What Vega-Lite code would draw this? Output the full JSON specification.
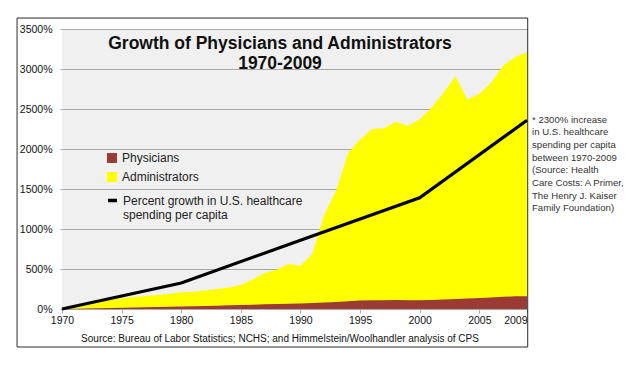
{
  "$schema": "https://vega.github.io/schema/vega-lite/v6.json",
  "width": 465,
  "height": 280,
  "autosize": {"type": "none"},
  "padding": {"left": 62, "top": 29, "right": 104, "bottom": 58},
  "background": "white",
  "config": {"view": {"fill": "#f0f0f0", "stroke": null}, "font": "Liberation Sans"},
  "title": {
    "text": ["Growth of Physicians and Administrators", "1970-2009"],
    "anchor": "middle",
    "frame": "group",
    "font": "Liberation Sans",
    "fontSize": 17.5,
    "fontWeight": "bold",
    "color": "#111111",
    "lineHeight": 20,
    "offset": 0,
    "dx": -14.5,
    "dy": 55
  },
  "datasets": {
    "growth": [
      {"year": 1970, "series": "Administrators", "value": 0},
      {"year": 1971, "series": "Administrators", "value": 30},
      {"year": 1972, "series": "Administrators", "value": 60},
      {"year": 1973, "series": "Administrators", "value": 90},
      {"year": 1974, "series": "Administrators", "value": 115},
      {"year": 1975, "series": "Administrators", "value": 135},
      {"year": 1976, "series": "Administrators", "value": 150},
      {"year": 1977, "series": "Administrators", "value": 162},
      {"year": 1978, "series": "Administrators", "value": 175},
      {"year": 1979, "series": "Administrators", "value": 188},
      {"year": 1980, "series": "Administrators", "value": 210},
      {"year": 1981, "series": "Administrators", "value": 215},
      {"year": 1982, "series": "Administrators", "value": 232},
      {"year": 1983, "series": "Administrators", "value": 250},
      {"year": 1984, "series": "Administrators", "value": 270},
      {"year": 1985, "series": "Administrators", "value": 300},
      {"year": 1986, "series": "Administrators", "value": 370},
      {"year": 1987, "series": "Administrators", "value": 450},
      {"year": 1988, "series": "Administrators", "value": 490},
      {"year": 1989, "series": "Administrators", "value": 562},
      {"year": 1990, "series": "Administrators", "value": 540},
      {"year": 1991, "series": "Administrators", "value": 690},
      {"year": 1992, "series": "Administrators", "value": 1180},
      {"year": 1993, "series": "Administrators", "value": 1480},
      {"year": 1994, "series": "Administrators", "value": 1950},
      {"year": 1995, "series": "Administrators", "value": 2120},
      {"year": 1996, "series": "Administrators", "value": 2250},
      {"year": 1997, "series": "Administrators", "value": 2260},
      {"year": 1998, "series": "Administrators", "value": 2340},
      {"year": 1999, "series": "Administrators", "value": 2290},
      {"year": 2000, "series": "Administrators", "value": 2370},
      {"year": 2001, "series": "Administrators", "value": 2520},
      {"year": 2002, "series": "Administrators", "value": 2700},
      {"year": 2003, "series": "Administrators", "value": 2910},
      {"year": 2004, "series": "Administrators", "value": 2620},
      {"year": 2005, "series": "Administrators", "value": 2690},
      {"year": 2006, "series": "Administrators", "value": 2830},
      {"year": 2007, "series": "Administrators", "value": 3040},
      {"year": 2008, "series": "Administrators", "value": 3150},
      {"year": 2009, "series": "Administrators", "value": 3210},
      {"year": 1970, "series": "Physicians", "value": 0},
      {"year": 1971, "series": "Physicians", "value": 3},
      {"year": 1972, "series": "Physicians", "value": 6},
      {"year": 1973, "series": "Physicians", "value": 9},
      {"year": 1974, "series": "Physicians", "value": 12},
      {"year": 1975, "series": "Physicians", "value": 15},
      {"year": 1976, "series": "Physicians", "value": 18},
      {"year": 1977, "series": "Physicians", "value": 21},
      {"year": 1978, "series": "Physicians", "value": 24},
      {"year": 1979, "series": "Physicians", "value": 27},
      {"year": 1980, "series": "Physicians", "value": 30},
      {"year": 1981, "series": "Physicians", "value": 34},
      {"year": 1982, "series": "Physicians", "value": 38},
      {"year": 1983, "series": "Physicians", "value": 42},
      {"year": 1984, "series": "Physicians", "value": 46},
      {"year": 1985, "series": "Physicians", "value": 50},
      {"year": 1986, "series": "Physicians", "value": 54},
      {"year": 1987, "series": "Physicians", "value": 58},
      {"year": 1988, "series": "Physicians", "value": 62},
      {"year": 1989, "series": "Physicians", "value": 66},
      {"year": 1990, "series": "Physicians", "value": 70},
      {"year": 1991, "series": "Physicians", "value": 75},
      {"year": 1992, "series": "Physicians", "value": 80},
      {"year": 1993, "series": "Physicians", "value": 88},
      {"year": 1994, "series": "Physicians", "value": 96},
      {"year": 1995, "series": "Physicians", "value": 105},
      {"year": 1996, "series": "Physicians", "value": 108},
      {"year": 1997, "series": "Physicians", "value": 110},
      {"year": 1998, "series": "Physicians", "value": 112},
      {"year": 1999, "series": "Physicians", "value": 110},
      {"year": 2000, "series": "Physicians", "value": 108},
      {"year": 2001, "series": "Physicians", "value": 112},
      {"year": 2002, "series": "Physicians", "value": 118},
      {"year": 2003, "series": "Physicians", "value": 125},
      {"year": 2004, "series": "Physicians", "value": 132},
      {"year": 2005, "series": "Physicians", "value": 138},
      {"year": 2006, "series": "Physicians", "value": 145},
      {"year": 2007, "series": "Physicians", "value": 152},
      {"year": 2008, "series": "Physicians", "value": 158},
      {"year": 2009, "series": "Physicians", "value": 160},
      {"year": 1970, "series": "Percent growth in U.S. healthcare spending per capita", "value": 0},
      {"year": 1980, "series": "Percent growth in U.S. healthcare spending per capita", "value": 325},
      {"year": 1990, "series": "Percent growth in U.S. healthcare spending per capita", "value": 860},
      {"year": 2000, "series": "Percent growth in U.S. healthcare spending per capita", "value": 1390},
      {"year": 2009, "series": "Percent growth in U.S. healthcare spending per capita", "value": 2360}
    ]
  },
  "layer": [
    {
      "data": {"name": "growth"},
      "transform": [{"filter": "datum.series === 'Administrators'"}],
      "mark": {"type": "area", "interpolate": "linear"},
      "encoding": {
        "x": {
          "field": "year", "type": "quantitative",
          "scale": {"domain": [1970, 2009], "nice": false, "zero": false},
          "axis": {
            "values": [1970, 1975, 1980, 1985, 1990, 1995, 2000, 2005, 2009],
            "format": "d",
            "grid": false,
            "domain": false,
            "ticks": true,
            "tickSize": 4,
            "tickColor": "#b0b0b0",
            "labelPadding": 2,
            "labelFlush": false,
            "labelOverlap": false,
            "labelAlign": {"condition": {"test": "datum.value == 2009", "value": "right"}, "value": "center"},
            "labelFont": "Liberation Sans",
            "labelFontSize": 10.5,
            "labelColor": "#111111",
            "title": "Source: Bureau of Labor Statistics; NCHS; and Himmelstein/Woolhandler analysis of CPS",
            "titleFont": "Liberation Sans",
            "titleFontSize": 10,
            "titleFontWeight": "normal",
            "titleColor": "#111111",
            "titleX": 217.5,
            "titleY": 29,
            "titleAlign": "center",
            "titleBaseline": "middle"
          }
        },
        "y": {
          "field": "value", "type": "quantitative",
          "scale": {"domain": [0, 3500], "nice": false},
          "axis": {
            "values": [0, 500, 1000, 1500, 2000, 2500, 3000, 3500],
            "tickCount": 8,
            "labelExpr": "datum.value + '%'",
            "labelOverlap": false,
            "grid": true,
            "gridColor": "#a8a8a8",
            "gridWidth": 1,
            "gridOpacity": 1,
            "domain": false,
            "ticks": true,
            "tickSize": 2,
            "tickColor": "#a8a8a8",
            "labelPadding": 8,
            "labelFont": "Liberation Sans",
            "labelFontSize": 10.5,
            "labelColor": "#111111",
            "title": null
          }
        },
        "color": {
          "field": "series", "type": "nominal",
          "scale": {"domain": ["Physicians", "Administrators"], "range": ["#9c3a36", "#ffff00"]},
          "legend": {
            "orient": "none", "legendX": 44, "legendY": 123,
            "title": null, "padding": 0,
            "symbolType": "square", "symbolSize": 100, "symbolStrokeWidth": 0,
            "labelFont": "Liberation Sans", "labelFontSize": 12, "labelColor": "#222222",
            "labelOffset": 4, "rowPadding": 7
          }
        }
      }
    },
    {
      "data": {"name": "growth"},
      "transform": [{"filter": "datum.series === 'Physicians'"}],
      "mark": {"type": "area", "interpolate": "linear"},
      "encoding": {
        "x": {"field": "year", "type": "quantitative", "scale": {"domain": [1970, 2009], "nice": false, "zero": false}},
        "y": {"field": "value", "type": "quantitative", "scale": {"domain": [0, 3500], "nice": false}},
        "color": {"field": "series", "type": "nominal", "scale": {"domain": ["Physicians", "Administrators"], "range": ["#9c3a36", "#ffff00"]}}
      }
    },
    {
      "data": {"name": "growth"},
      "transform": [{"filter": "datum.series === 'Percent growth in U.S. healthcare spending per capita'"}],
      "mark": {"type": "line", "strokeWidth": 3.2, "interpolate": "linear"},
      "encoding": {
        "x": {"field": "year", "type": "quantitative", "scale": {"domain": [1970, 2009], "nice": false, "zero": false}},
        "y": {"field": "value", "type": "quantitative", "scale": {"domain": [0, 3500], "nice": false}},
        "stroke": {
          "field": "series", "type": "nominal",
          "scale": {"domain": ["Percent growth in U.S. healthcare spending per capita"], "range": ["#000000"]},
          "legend": {
            "orient": "none", "legendX": 44, "legendY": 165,
            "title": null, "padding": 0,
            "symbolType": "stroke", "symbolSize": 80, "symbolStrokeWidth": 3.5,
            "labelExpr": "['Percent growth in U.S. healthcare', 'spending per capita']",
            "labelFont": "Liberation Sans", "labelFontSize": 12, "labelColor": "#222222",
            "labelLimit": 400, "labelOffset": 4
          }
        }
      }
    },
    {
      "data": {"values": [{"frame": "outer"}]},
      "mark": {"type": "rect", "fillOpacity": 0, "stroke": "#2a2a2a", "strokeWidth": 1, "clip": false},
      "encoding": {
        "x": {"datum": 1966.23, "type": "quantitative", "scale": {"domain": [1970, 2009], "nice": false, "zero": false}},
        "x2": {"datum": 2009.06},
        "y": {"datum": -475, "type": "quantitative", "scale": {"domain": [0, 3500], "nice": false}},
        "y2": {"datum": 3637}
      }
    },
    {
      "data": {"values": [{"note": "kaiser"}]},
      "mark": {
        "type": "text", "align": "left", "baseline": "top", "clip": false,
        "font": "Liberation Sans", "fontSize": 9.6, "lineHeight": 12.7,
        "color": "#333333", "dx": 5
      },
      "encoding": {
        "x": {"datum": 2009, "type": "quantitative", "scale": {"domain": [1970, 2009], "nice": false, "zero": false}},
        "y": {"datum": 2430, "type": "quantitative", "scale": {"domain": [0, 3500], "nice": false}},
        "text": {"value": ["* 2300% increase", "in U.S. healthcare", "spending per capita", "between 1970-2009", "(Source: Health", "Care Costs: A Primer,", "The Henry J. Kaiser", "Family Foundation)"]}
      }
    }
  ]
}
